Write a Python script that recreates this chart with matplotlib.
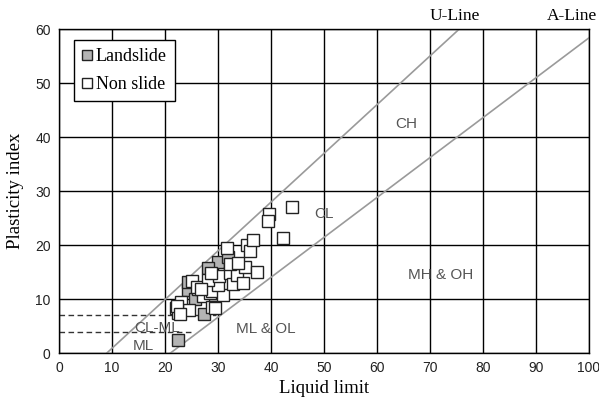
import matplotlib
matplotlib.use("Agg")
import matplotlib.pyplot as plt

# Data (liquid limit, plasticity index)
landslide_ll = [22.5, 27.3, 30.0, 24.3, 24.3, 28.1, 25.7, 31.8]
landslide_pi = [2.5, 7.2, 16.9, 11.7, 13.1, 15.7, 10.0, 17.8]

nonslide_ll = [22.1, 22.5, 23.0, 24.5, 22.3, 22.8, 26.2, 25.1, 26.0, 27.2,
               28.9, 29.4, 28.5, 28.9, 30.9, 30.0, 28.1, 30.2, 28.7, 32.3,
               32.8, 33.6, 34.7, 35.1, 37.4, 32.3, 33.8, 31.7, 35.5, 36.0,
               36.6, 39.6, 39.4, 42.3, 44.0, 26.8]
nonslide_pi = [8.3, 7.4, 9.4, 8.0, 8.7, 7.2, 11.9, 13.3, 12.2, 10.6,
               8.5, 8.3, 11.1, 11.5, 10.7, 12.6, 13.5, 14.3, 14.8, 14.8,
               12.8, 14.4, 13.0, 15.9, 15.0, 16.5, 16.7, 19.4, 20.0, 18.9,
               20.9, 25.8, 24.4, 21.3, 27.0, 11.9]

u_line_ll = [9.0, 75.5]
u_line_pi = [0.0, 60.0]
a_line_ll = [21.0, 100.0]
a_line_pi = [0.0, 58.4]

dash_levels = [7, 4]
dash_ends = [29.6, 25.5]

zone_labels = ["CH", "CL", "MH & OH", "ML & OL", "CL-ML", "ML"]
zone_x = [65.5, 50.0, 72.0, 39.0, 18.5, 16.0]
zone_y = [42.5, 25.8, 14.5, 4.5, 4.7, 1.3]

fig = plt.figure(figsize=(5.99, 4.05), dpi=100)
ax = fig.add_axes([0.0985, 0.128, 0.8848, 0.80])

ax.set_xlim(0, 100)
ax.set_ylim(0, 60)
ax.set_xticks(range(0, 101, 10))
ax.set_yticks(range(0, 61, 10))
ax.grid(True, color="black", linewidth=1.0)
ax.set_axisbelow(True)
ax.tick_params(length=0, labelsize=10, pad=6, labelcolor="#222222")
for lab in ax.get_xticklabels() + ax.get_yticklabels():
    lab.set_family("Liberation Sans")
for s in ax.spines.values():
    s.set_linewidth(1.0)
    s.set_color("black")

ax.plot(u_line_ll, u_line_pi, color="#9a9a9a", lw=1.2, zorder=2)
ax.plot(a_line_ll, a_line_pi, color="#9a9a9a", lw=1.2, zorder=2)
for lvl, end in zip(dash_levels, dash_ends):
    ax.plot([0, end], [lvl, lvl], color="#333333", lw=1.0, ls=(0, (4, 2.5)), zorder=2)

for t, x, y in zip(zone_labels, zone_x, zone_y):
    ax.text(x, y, t, ha="center", va="center", fontsize=11, color="#555555",
            family="Liberation Sans", zorder=2)

ax.plot(landslide_ll, landslide_pi, ls="none", marker="s", ms=8,
        mfc="#b4b4b4", mec="#222222", mew=1.0, zorder=3, label="Landslide")
ax.plot(nonslide_ll, nonslide_pi, ls="none", marker="s", ms=8,
        mfc="white", mec="#222222", mew=1.0, zorder=3, label="Non slide")

ax.text(74.7, 1.04, "U-Line", transform=ax.get_xaxis_transform(), ha="center",
        va="center", fontsize=12.5, family="Liberation Serif")
ax.text(96.8, 1.04, "A-Line", transform=ax.get_xaxis_transform(), ha="center",
        va="center", fontsize=12.5, family="Liberation Serif", clip_on=False)

leg = ax.legend(loc="upper left", bbox_to_anchor=(0.028, 0.966), borderaxespad=0,
                prop={"family": "Liberation Serif", "size": 13}, fancybox=False,
                framealpha=1, edgecolor="black", handlelength=0.6, handletextpad=0.15,
                borderpad=0.45, labelspacing=0.6, markerscale=0.9)
leg.get_frame().set_linewidth(1.0)
leg.set_zorder(5)

ax.set_xlabel("Liquid limit", family="Liberation Serif", fontsize=13.5, labelpad=3)
ax.set_ylabel("Plasticity index", family="Liberation Serif", fontsize=13.5, labelpad=8)

fig.savefig("out.png", dpi=100)
